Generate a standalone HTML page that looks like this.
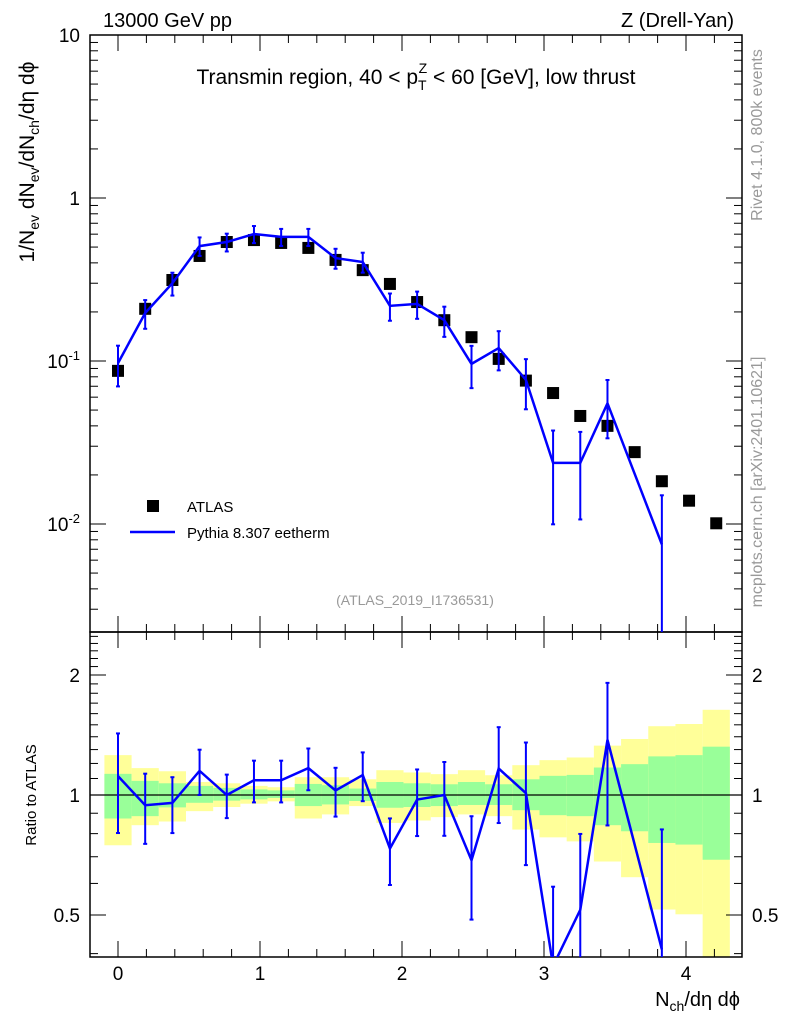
<!DOCTYPE html>
<html><head><meta charset="utf-8"><style>
html,body{margin:0;padding:0;background:#fff;overflow:hidden;width:786px;height:1024px;}
svg{display:block;font-family:"Liberation Sans",sans-serif;}
</style></head><body>
<svg id="chart" width="786" height="1024" xmlns="http://www.w3.org/2000/svg">
<g id="bands"></g>
<g id="grid"></g>
<g id="marks"></g>
<text x="103" y="27" font-size="20">13000 GeV pp</text>
<text x="734" y="27" font-size="20" text-anchor="end">Z (Drell-Yan)</text>
<text x="416" y="84" font-size="21" text-anchor="middle">Transmin region, 40 &lt; p<tspan font-size="14" dy="6">T</tspan><tspan font-size="14" dx="-8" dy="-17">Z</tspan><tspan dy="11"> &lt; 60 [GeV], low thrust</tspan></text>
<text x="415" y="605" font-size="14" fill="#999" text-anchor="middle">(ATLAS_2019_I1736531)</text>
<text transform="translate(762,135) rotate(-90)" font-size="16" fill="#999" text-anchor="middle">Rivet 4.1.0,  800k events</text>
<text transform="translate(762,482) rotate(-90)" font-size="16" fill="#999" text-anchor="middle">mcplots.cern.ch [arXiv:2401.10621]</text>
<text transform="translate(34,162) rotate(-90)" font-size="21" text-anchor="middle">1/N<tspan font-size="14" dy="5">ev</tspan><tspan dy="-5"> dN</tspan><tspan font-size="14" dy="5">ev</tspan><tspan dy="-5">/dN</tspan><tspan font-size="14" dy="5">ch</tspan><tspan dy="-5">/dη dϕ</tspan></text>
<text transform="translate(36,795) rotate(-90)" font-size="15" text-anchor="middle">Ratio to ATLAS</text>
<text x="740" y="1006" font-size="20" text-anchor="end">N<tspan font-size="14" dy="5">ch</tspan><tspan dy="-5">/dη dϕ</tspan></text>
<g>
<rect x="147" y="500" width="12" height="12" fill="#000"/>
<text x="187" y="512" font-size="15">ATLAS</text>
<line x1="130" y1="532" x2="175" y2="532" stroke="#0000ff" stroke-width="2.5"/>
<text x="187" y="538" font-size="15">Pythia 8.307 eetherm</text>
</g>
</svg>
<script>
const atlas=[0.087,0.209,0.314,0.441,0.537,0.552,0.53,0.494,0.417,0.361,0.297,0.230,0.178,0.140,0.103,0.0758,0.0636,0.046,0.040,0.0276,0.0183,0.0139,0.0101];
const pythia=[0.097,0.197,0.30,0.507,0.537,0.601,0.577,0.577,0.428,0.405,0.218,0.224,0.178,0.096,0.12,0.0766,0.0237,0.0237,0.055,null,0.0075];
const pythiaErr=[0.28,0.2,0.16,0.13,0.125,0.12,0.12,0.12,0.14,0.14,0.19,0.19,0.21,0.29,0.27,0.34,0.58,0.55,0.39,null,1.0];
const yelUp=[1.259,1.168,1.147,1.078,1.070,1.054,1.046,1.108,1.108,1.095,1.154,1.139,1.128,1.154,1.121,1.188,1.223,1.242,1.330,1.382,1.488,1.507,1.636];
const yelDn=[0.748,0.840,0.858,0.911,0.933,0.951,0.964,0.873,0.894,0.938,0.851,0.863,0.880,0.894,0.885,0.819,0.783,0.765,0.681,0.622,0.516,0.502,0.30];
const grnUp=[1.130,1.085,1.070,1.054,1.042,1.033,1.027,1.066,1.058,1.038,1.078,1.070,1.064,1.078,1.064,1.095,1.117,1.123,1.172,1.195,1.250,1.259,1.322];
const grnDn=[0.873,0.885,0.931,0.956,0.968,0.975,0.983,0.938,0.947,0.966,0.929,0.933,0.938,0.944,0.944,0.916,0.890,0.885,0.840,0.811,0.758,0.751,0.688];
const binW=0.1915;
const xTicks=[0,1,2,3,4];
const yTicks=[[10,"10"],[1,"1"],[0.1,"10"],[0.01,"10"]];
const rTicks=[[2,"2"],[1,"1"],[0.5,"0.5"]];

const NS="http://www.w3.org/2000/svg";
const L=90,R=742,T=35,M=632,B=957;
const X=v=>118+v*142;
const Y=v=>198-Math.log10(v)*163;
const RY=v=>795-Math.log10(v)*398.6;
function mk(p,tag,a){const e=document.createElementNS(NS,tag);for(const k in a)e.setAttribute(k,a[k]);p.appendChild(e);return e;}
const bands=document.getElementById('bands'),grid=document.getElementById('grid'),marks=document.getElementById('marks');
const clampR=v=>Math.min(Math.max(RY(v),M),B);
atlas.forEach((a,i)=>{
  const x0=X(i*binW-binW/2),x1=X(i*binW+binW/2);
  let r=mk(bands,'rect',{x:x0,y:clampR(yelUp[i]),width:x1-x0,height:clampR(yelDn[i])-clampR(yelUp[i]),fill:'#ffff99'});
  
  
  r=mk(bands,'rect',{x:x0,y:clampR(grnUp[i]),width:x1-x0,height:clampR(grnDn[i])-clampR(grnUp[i]),fill:'#99ff99'});
  
  
});
for(const [t,b] of [[T,M],[M,B]]){
  const f=mk(grid,'rect',{x:L,y:t,width:R-L,height:b-t,fill:'none',stroke:'#000','stroke-width':1.5});
  
  
}
const ref=mk(grid,'line',{x1:L,x2:R,y1:RY(1),y2:RY(1),stroke:'#000','stroke-width':1.2});


for(let v=-0.2;v<=4.4;v+=0.2){
  const vv=Math.round(v*10)/10;const x=X(vv);if(x<L||x>R)continue;
  const maj=Math.abs(vv-Math.round(vv))<1e-6,len=maj?16:8;
  for(const [y0,d] of [[T,1],[M,-1],[M,1],[B,-1]]) mk(grid,'line',{x1:x,x2:x,y1:y0,y2:y0+d*len,stroke:'#000','stroke-width':1});
}
xTicks.forEach(v=>{const t=mk(grid,'text',{x:X(v),y:980,'font-size':19,'text-anchor':'middle'});t.textContent=v;

});
for(let e=-3;e<=1;e++)for(let m=1;m<10;m++){
  const v=m*Math.pow(10,e),y=Y(v);if(y<T-0.5||y>M)continue;const len=m==1?16:8;
  mk(grid,'line',{x1:L,x2:L+len,y1:y,y2:y,stroke:'#000'});mk(grid,'line',{x1:R,x2:R-len,y1:y,y2:y,stroke:'#000'});
}
yTicks.forEach(([v,s])=>{const t=mk(grid,'text',{x:80,y:Y(v)+7,'font-size':19,'text-anchor':'end'});t.textContent=s;
if(v<1){const sp=mk(t,'tspan',{'font-size':13,dy:-8});sp.textContent=String(Math.round(Math.log10(v)));}

});
for(let v=0.3;v<=2.6;v+=0.1){
  const vv=Math.round(v*10)/10,y=RY(vv);if(y<M||y>B)continue;const maj=[0.5,1,2].includes(vv),len=maj?16:8;
  mk(grid,'line',{x1:L,x2:L+len,y1:y,y2:y,stroke:'#000'});mk(grid,'line',{x1:R,x2:R-len,y1:y,y2:y,stroke:'#000'});
}
rTicks.forEach(([v,s])=>{for(const [x,a] of [[80,'end'],[752,'start']]){const t=mk(grid,'text',{x:x,y:RY(v)+7,'font-size':19,'text-anchor':a});t.textContent=s;

}});
const defs=mk(document.getElementById('chart'),'defs',{});
const c1=mk(defs,'clipPath',{id:'cm'});mk(c1,'rect',{x:L,y:T,width:R-L,height:M-T});
const c2=mk(defs,'clipPath',{id:'cr'});mk(c2,'rect',{x:L,y:M,width:R-L,height:B-M});
const gm=mk(marks,'g',{'clip-path':'url(#cm)'}),gr=mk(marks,'g',{'clip-path':'url(#cr)'});
const blue='#0000ff';
atlas.forEach((a,i)=>{const r=mk(gm,'rect',{x:X(i*binW)-6,y:Y(a)-6,width:12,height:12,fill:'#000'});

});
function errbar(g,x,y1,y2){mk(g,'line',{x1:x,x2:x,y1:y1,y2:y2,stroke:blue,'stroke-width':2});
for(const y of [y1,y2])mk(g,'line',{x1:x-2,x2:x+2,y1:y,y2:y,stroke:blue,'stroke-width':2});}
let pm=[],pr=[];
pythia.forEach((p,i)=>{if(p==null)return;const x=X(i*binW),e=pythiaErr[i],rat=p/atlas[i];
pm.push(x+','+Y(p));pr.push(x+','+RY(rat));
errbar(gm,x,Y(p*(1+e)),Y(Math.max(p*(1-e),1e-4)));
errbar(gr,x,RY(rat*(1+e)),RY(Math.max(rat*(1-e),0.01)));});
const l1=mk(gm,'polyline',{points:pm.join(' '),fill:'none',stroke:blue,'stroke-width':2.5});


const l2=mk(gr,'polyline',{points:pr.join(' '),fill:'none',stroke:blue,'stroke-width':2.5});


</script>
</body></html>
